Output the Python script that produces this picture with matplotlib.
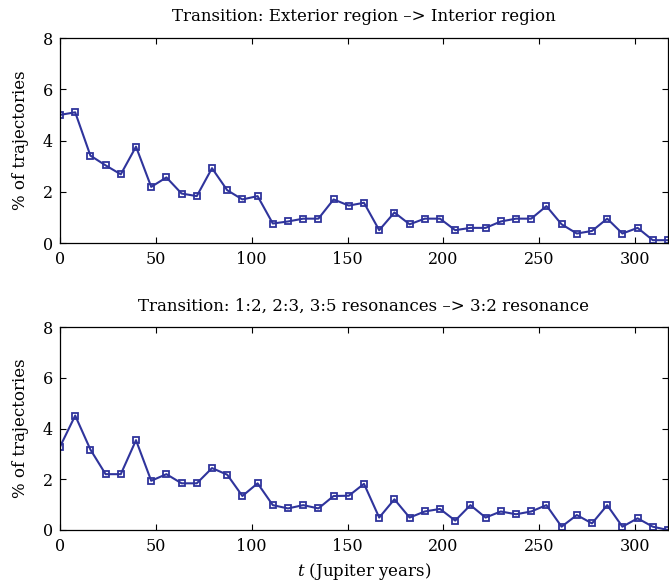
"""Trajectory transition fractions vs time, two stacked panels -> out.png."""

import numpy as np
import matplotlib
matplotlib.use("Agg")
import matplotlib.pyplot as plt

STEP = 7.93  # sampling interval in Jupiter years
N_PTS = 41

exterior_to_interior = [5.0, 5.1, 3.41, 3.03, 2.68, 3.76, 2.19, 2.56, 1.93, 1.83,
                        2.92, 2.06, 1.70, 1.83, 0.76, 0.84, 0.95, 0.95, 1.70, 1.46,
                        1.57, 0.50, 1.19, 0.73, 0.95, 0.95, 0.50, 0.59, 0.59, 0.84,
                        0.95, 0.95, 1.44, 0.73, 0.37, 0.47, 0.95, 0.37, 0.59, 0.11,
                        0.11]
resonances_to_32 = [3.28, 4.51, 3.17, 2.20, 2.20, 3.54, 1.94, 2.20, 1.84, 1.84,
                    2.44, 2.18, 1.34, 1.84, 0.98, 0.85, 0.98, 0.85, 1.34, 1.35,
                    1.82, 0.49, 1.21, 0.49, 0.73, 0.83, 0.37, 0.98, 0.49, 0.73,
                    0.62, 0.73, 0.98, 0.13, 0.59, 0.26, 0.98, 0.13, 0.46, 0.13,
                    0.0]
titles = ["Transition: Exterior region \u2013> Interior region",
          "Transition: 1:2, 2:3, 3:5 resonances \u2013> 3:2 resonance"]

t = np.arange(N_PTS) * STEP
LINE = "#2f349c"

plt.rcParams.update({"font.family": "DejaVu Serif", "font.size": 12,
                     "mathtext.fontset": "dejavuserif"})

fig = plt.figure(figsize=(6.69, 5.85), dpi=100)
boxes = [[60 / 669, 1 - 243 / 585, 608 / 669, 205 / 585],
         [60 / 669, 1 - 530 / 585, 608 / 669, 203 / 585]]

for box, series, title in zip(boxes, [exterior_to_interior, resonances_to_32], titles):
    ax = fig.add_axes(box)
    ax.plot(t, series, color=LINE, lw=1.5, marker="s", ms=5, mfc="none",
            mec=LINE, mew=1.3)
    ax.set_xlim(0, t[-1]); ax.set_ylim(0, 8)
    ax.set_xticks([0, 50, 100, 150, 200, 250, 300])
    ax.set_yticks([0, 2, 4, 6, 8])
    ax.tick_params(direction="in", top=True, right=True, length=4, width=0.8,
                   labelsize=11.5)
    ax.tick_params(axis="x", pad=6)
    ax.tick_params(axis="y", pad=5)
    for s in ax.spines.values():
        s.set_linewidth(0.9)
    ax.set_ylabel("% of trajectories", fontsize=12, labelpad=10)
    ax.set_title(title, fontsize=12, pad=12)

ax.set_xlabel("$t$ (Jupiter years)", fontsize=12, labelpad=4)

fig.savefig("out.png", dpi=100)
